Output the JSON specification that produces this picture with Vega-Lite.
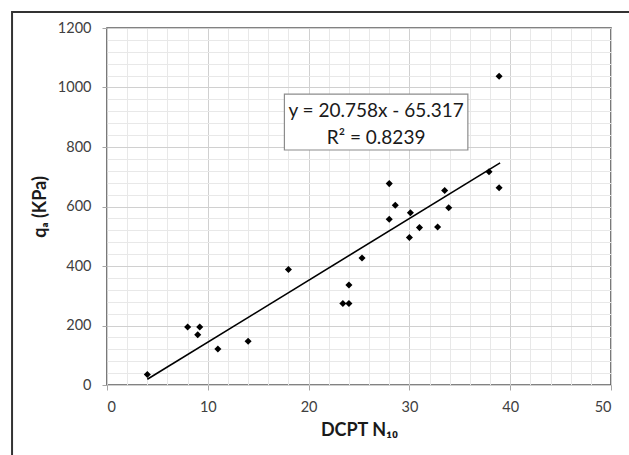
{
  "$schema": "https://vega.github.io/schema/vega-lite/v6.json",
  "width": 504,
  "height": 357,
  "autosize": {"type": "none"},
  "padding": {"left": 107, "top": 28, "right": 18, "bottom": 70},
  "background": "white",
  "config": {
    "font": "Lato",
    "view": {"stroke": "#595959", "strokeWidth": 1.6},
    "axis": {
      "labelFont": "Lato",
      "labelFontSize": 14.5,
      "labelColor": "#404040",
      "titleFont": "Lato",
      "titleFontSize": 18,
      "titleFontWeight": "bold",
      "titleColor": "#1a1a1a",
      "domain": false,
      "tickSize": 5,
      "tickColor": "#a6a6a6",
      "labelOverlap": false
    }
  },
  "datasets": {
    "pts": [
      {"n": 4, "qa": 35},
      {"n": 8, "qa": 195},
      {"n": 9.2, "qa": 195},
      {"n": 9, "qa": 169},
      {"n": 11, "qa": 121},
      {"n": 14, "qa": 147},
      {"n": 18, "qa": 388},
      {"n": 23.4, "qa": 274},
      {"n": 24, "qa": 274},
      {"n": 24, "qa": 336},
      {"n": 25.3, "qa": 427},
      {"n": 28, "qa": 677},
      {"n": 28, "qa": 557},
      {"n": 28.6, "qa": 604},
      {"n": 30, "qa": 496},
      {"n": 30.1, "qa": 579},
      {"n": 31, "qa": 529},
      {"n": 32.8, "qa": 531},
      {"n": 33.5, "qa": 654},
      {"n": 33.9, "qa": 596},
      {"n": 37.9, "qa": 717},
      {"n": 38.9, "qa": 663},
      {"n": 38.9, "qa": 1038}
    ],
    "box": [
      {"n": 17.6, "n2": 35.8, "qa": 978, "qa2": 790}
    ],
    "eq": [
      {"n": 26.7, "qa": 922, "label": "y = 20.758x - 65.317"},
      {"n": 26.7, "qa": 830, "label": "R² = 0.8239"}
    ],
    "frame": [
      {"n": -9.42, "n2": 62, "qa": 1254, "qa2": -320}
    ]
  },
  "encoding": {
    "x": {
      "field": "n",
      "type": "quantitative",
      "scale": {"domain": [0, 50], "nice": false},
      "axis": {
        "title": "DCPT N₁₀",
        "format": "d",
        "values": [0,2,4,6,8,10,12,14,16,18,20,22,24,26,28,30,32,34,36,38,40,42,44,46,48,50],
        "labelExpr": "datum.value % 10 === 0 ? datum.label : ''",
        "gridColor": {"condition": {"test": "datum.value % 10 === 0", "value": "#d0d0d0"}, "value": "#e8e8e8"},
        "tickColor": {"condition": {"test": "datum.value % 10 === 0", "value": "#a6a6a6"}, "value": "transparent"},
        "labelPadding": 10,
        "titlePadding": 8
      }
    },
    "y": {
      "field": "qa",
      "type": "quantitative",
      "scale": {"domain": [0, 1200], "nice": false},
      "axis": {
        "title": "qₐ (KPa)",
        "format": "d",
        "values": [0,40,80,120,160,200,240,280,320,360,400,440,480,520,560,600,640,680,720,760,800,840,880,920,960,1000,1040,1080,1120,1160,1200],
        "labelExpr": "datum.value % 200 === 0 ? datum.label : ''",
        "gridColor": {"condition": {"test": "datum.value % 200 === 0", "value": "#d0d0d0"}, "value": "#e8e8e8"},
        "tickColor": {"condition": {"test": "datum.value % 200 === 0", "value": "#a6a6a6"}, "value": "transparent"},
        "labelPadding": 11,
        "titlePadding": 8
      }
    }
  },
  "layer": [
    {
      "data": {"name": "frame"},
      "mark": {"type": "rect", "fill": null, "stroke": "#333333", "strokeWidth": 2, "clip": false},
      "encoding": {
        "x2": {"field": "n2"},
        "y2": {"field": "qa2"}
      }
    },
    {
      "data": {"name": "pts"},
      "mark": {"type": "point", "shape": "diamond", "filled": true, "color": "black", "size": 50, "opacity": 1}
    },
    {
      "data": {"name": "pts"},
      "transform": [{"regression": "qa", "on": "n", "extent": [4, 39]}],
      "mark": {"type": "line", "color": "black", "strokeWidth": 1.6}
    },
    {
      "data": {"name": "box"},
      "mark": {"type": "rect", "fill": "white", "stroke": "#8c8c8c", "strokeWidth": 1.2},
      "encoding": {
        "x2": {"field": "n2"},
        "y2": {"field": "qa2"}
      }
    },
    {
      "data": {"name": "eq"},
      "mark": {"type": "text", "font": "Lato", "fontSize": 19, "color": "#1a1a1a", "align": "center", "baseline": "middle"},
      "encoding": {
        "text": {"field": "label"}
      }
    }
  ]
}
